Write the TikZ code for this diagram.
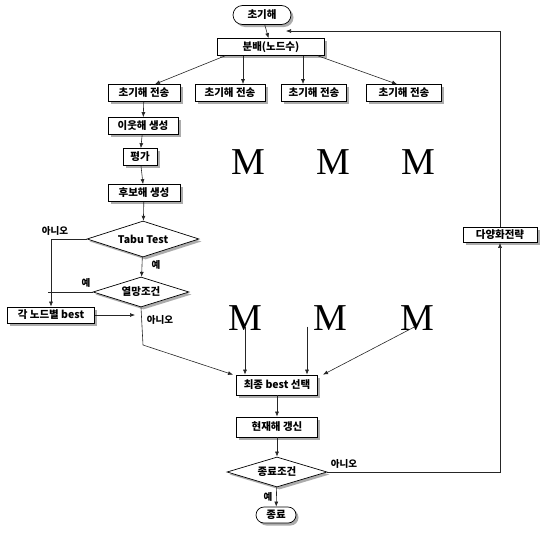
\documentclass[tikz,border=0pt]{standalone}
\usepackage{fontspec}
\newfontfamily\kr{Noto Sans CJK KR}
\newfontfamily\bigserif{Liberation Serif}
\usetikzlibrary{arrows.meta,shapes.geometric,shapes.misc,shadows}

\begin{document}
\begin{tikzpicture}[x=1pt,y=-1pt]
\tikzset{
  boxshadow/.style={drop shadow={shadow xshift=2.5pt,shadow yshift=-2.5pt,fill=gray!65,opacity=1}},
  flowbox/.style={rectangle,draw=black,line width=0.7pt,fill=white,inner sep=1pt,minimum height=17pt,
    font=\kr\bfseries\fontsize{10.5}{11}\selectfont,boxshadow},
  termbox/.style={flowbox,rounded rectangle,minimum height=19pt},
  testbox/.style={diamond,draw=black,line width=0.7pt,fill=white,inner sep=0pt,aspect=3,
    font=\kr\bfseries\fontsize{10.5}{11}\selectfont,boxshadow},
  biglabel/.style={inner sep=0pt,font=\bigserif\fontsize{38}{38}\selectfont},
  answer/.style={inner sep=1pt,font=\kr\bfseries\fontsize{9.5}{10}\selectfont},
  flowline/.style={draw=black!85,line width=0.6pt},
  flowarrow/.style={flowline,-{Latex[length=5pt,width=4pt]}}
}
\useasboundingbox (0,0) rectangle (548,533);
% main column
\node[termbox,minimum width=60pt] (start) at (262,15) {초기해};
\node[flowbox,minimum width=107pt] (split) at (271,47) {분배(노드수)};
\node[flowbox,minimum width=72pt] (send1) at (144,93) {초기해 전송};
\node[flowbox,minimum width=70pt] (send2) at (230,93) {초기해 전송};
\node[flowbox,minimum width=65pt] (send3) at (314,93) {초기해 전송};
\node[flowbox,minimum width=75pt] (send4) at (404,93) {초기해 전송};
\node[flowbox,minimum width=70pt] (nbr) at (143,126) {이웃해 생성};
\node[flowbox,minimum width=34pt] (eval) at (140,157) {평가};
\node[flowbox,minimum width=72pt] (cand) at (144,193) {후보해 생성};
\node[testbox,minimum width=112pt,minimum height=36pt] (tabu) at (143,239) {Tabu Test};
\node[testbox,minimum width=96pt,minimum height=30pt] (asp) at (141,292) {열망조건};
\node[flowbox,minimum width=87pt,minimum height=16pt] (best) at (51,315) {각 노드별 best};
\node[flowbox,minimum width=81pt,minimum height=20pt] (final) at (277,385) {최종 best 선택};
\node[flowbox,minimum width=81pt,minimum height=20pt] (update) at (277,427) {현재해 갱신};
\node[testbox,minimum width=100pt,minimum height=30pt] (stop) at (277,472) {종료조건};
\node[termbox,minimum width=42pt,minimum height=16pt] (end) at (276,515) {종료};
\node[flowbox,minimum width=74pt,minimum height=15pt] (divers) at (500,235) {다양화전략};
% other nodes
\node[biglabel] (m1) at (248,162) {M};
\node[biglabel] (m2) at (333,162) {M};
\node[biglabel] (m3) at (418,162) {M};
\node[biglabel] (m4) at (245,318) {M};
\node[biglabel] (m5) at (330,318) {M};
\node[biglabel] (m6) at (417,318) {M};
% answers
\node[answer] (no1) at (55,231) {아니오};
\node[answer] (yes1) at (156,265) {예};
\node[answer] (yes2) at (86,283) {예};
\node[answer] (no2) at (160,320) {아니오};
\node[answer] (no3) at (344,464) {아니오};
\node[answer] (yes3) at (268,497) {예};
\coordinate (loopin) at (286,31);
\coordinate (bend) at (143,345);
\coordinate (leftline) at (48,292);
% connectors
\draw[flowarrow] (start) -- (split);
\draw[flowarrow] ([xshift=-46pt]split.south) -- ([xshift=11pt]send1.north);
\draw[flowarrow] ([xshift=-28pt]split.south) -- ([xshift=13pt]send2.north);
\draw[flowarrow] ([xshift=32pt]split.south) -- ([xshift=-11pt]send3.north);
\draw[flowarrow] ([xshift=47pt]split.south) -- ([xshift=-7pt]send4.north);
\draw[flowarrow] (send1) -- (nbr);
\draw[flowarrow] (nbr) -- (eval);
\draw[flowarrow] (eval) -- (cand);
\draw[flowarrow] (cand) -- (tabu);
\draw[flowarrow] (tabu) -- (asp);
\draw[flowarrow] (tabu.west) -| (best.north);
\draw[flowline] (asp.west) -- (leftline);
\draw[flowarrow] (best.east) -- ([xshift=-6pt]best.east -| asp.south);
\draw[flowarrow] (asp.south) -- (bend) -- ([xshift=-44pt]final.north);
\draw[flowarrow] ([yshift=4pt]m4.south) -- ([xshift=-32pt]final.north);
\draw[flowarrow] ([yshift=4pt,xshift=-23pt]m5.south) -- ([xshift=30pt]final.north);
\draw[flowarrow] ([yshift=4pt,xshift=-2pt]m6.south) -- ([xshift=46pt]final.north);
\draw[flowarrow] (final) -- (update);
\draw[flowarrow] (update) -- (stop);
\draw[flowarrow] (stop) -- (end);
\draw[flowarrow] (stop.east) -| (divers.south);
\draw[flowarrow] (divers.north) |- (loopin);
\end{tikzpicture}
\end{document}
